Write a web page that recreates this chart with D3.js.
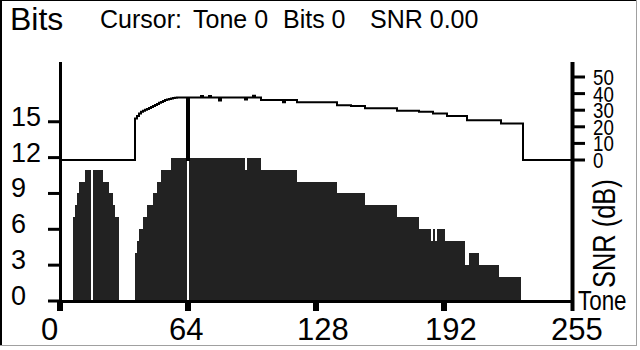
<!DOCTYPE html>
<html>
<head>
<meta charset="utf-8">
<script src="https://cdn.jsdelivr.net/npm/d3@7"></script>
<style>
  body { margin: 0; background: #fff; }
  text { font-family: "Liberation Sans", Arial, sans-serif; fill: #000; }
</style>
</head>
<body>
<svg id="chart" width="640" height="350"></svg>
<script>
// bits loaded on each tone (0..255)
const bits = [
  0,0,0,0,0,0,0,7,8,9,10,10,10,11,11,11,
  0,11,11,11,11,11,10,10,10,9,9,8,7,7,0,0,
  0,0,0,0,0,0,4,5,6,6,7,7,8,8,8,9,
  9,10,10,11,11,11,11,11,12,12,12,12,12,12,12,12,
  0,12,12,12,12,12,12,12,12,12,12,12,12,12,12,12,
  12,12,12,12,12,12,12,12,12,12,12,12,12,11,12,12,
  12,12,12,12,12,11,11,11,11,11,11,11,11,11,11,11,
  11,11,11,11,11,11,11,10,10,10,10,10,10,10,10,10,
  10,10,10,10,10,10,10,10,10,10,10,9,9,9,9,9,
  9,9,9,9,9,9,9,9,9,8,8,8,8,8,8,8,
  8,8,8,8,8,8,8,8,8,7,7,7,7,7,7,7,
  7,7,7,7,6,6,6,6,6,6,5,6,5,6,6,6,
  6,5,5,5,5,5,5,5,5,5,5,3,3,4,4,4,
  4,4,3,3,3,3,3,3,3,3,3,3,2,2,2,2,
  2,2,2,2,2,2,2,0,0,0,0,0,0,0,0,0,
  0,0,0,0,0,0,0,0,0,0,0,0,0,0,0,0
];

// SNR per tone in dB
const snr = [
  0,0,0,0,0,0,0,0,0,0,0,0,0,0,0,0,
  0,0,0,0,0,0,0,0,0,0,0,0,0,0,0,0,
  0,0,0,0,0,0,25,26.5,28,29,29.7,30.3,30.7,31.3,32,32.6,
  33.1,33.8,34.5,35,35.5,36.1,36.4,36.7,37.1,37.3,37.5,37.7,37.7,37.7,37.7,37.7,
  0,37.7,37.7,37.7,37.7,37.7,37.7,38.5,37.7,37.7,37.7,38.5,37.7,37.7,37.7,37.7,
  35.8,37.7,37.7,37.7,37.7,37.7,37.7,37.7,37.7,37.7,37.7,37.7,37.7,36.5,37.7,37.7,
  37.7,38.7,37.7,37.7,37.7,36.1,36.1,36.1,36.1,36.1,36.1,36.1,36.1,36.1,36.1,36.1,
  34.8,36.1,36.1,36.1,36.1,36.1,36.1,34.8,34.8,34.8,34.8,34.8,34.8,34.8,34.8,34.8,
  34.8,34.8,34.8,34.8,34.8,34.8,34.8,34.8,34.8,34.8,34.8,33,33,33,33,33,
  33,33,32.5,32.5,32.5,32.5,32.5,32.5,32.5,31.1,31.1,31.1,31.1,31.1,31.1,31.1,
  31.1,31.1,31.1,31.1,31.1,31.1,31.1,31.1,31.1,29.6,29.6,29.6,29.6,29.6,29.6,29.6,
  29.6,29.6,29.6,29.6,29,29,29,29,29,29,29,28,28,28,28,28,
  28,28,26.5,26.5,26.5,26.5,26.5,26.5,26.5,26.5,26.5,26.5,24,24,24,24,
  24,24,24,24,24,24,24,24,24,24,24,24,24,22,22,22,
  22,22,22,22,22,22,22,22,0,0,0,0,0,0,0,0,
  0,0,0,0,0,0,0,0,0,0,0,0,0,0,0,0
];

const toneTicks = [0, 64, 128, 192, 255];
const bitTicks = [0, 3, 6, 9, 12, 15];
const snrTicks = [0, 10, 20, 30, 40, 50];
const cursorParts = ["Cursor:", "Tone 0", "Bits 0", "SNR 0.00"];

const svg = d3.select("#chart");

// scales: 2px per tone, ~12px per bit
const x = d3.scaleLinear().domain([0, 255]).range([60, 570]);
const yBits = d3.scaleLinear().domain([0, 20]).range([301, 62]);
const ySnr = d3.scaleLinear().domain([0, 50]).range([160, 77]);

// window frame
svg.append("line").attr("x1", 0).attr("x2", 637).attr("y1", 0.5).attr("y2", 0.5)
  .attr("stroke", "#000");
svg.append("line").attr("x1", 1).attr("x2", 1).attr("y1", 0).attr("y2", 346)
  .attr("stroke", "#000").attr("stroke-width", 2);
svg.append("line").attr("x1", 636.5).attr("x2", 636.5).attr("y1", 0).attr("y2", 346)
  .attr("stroke", "#a0a0a0");
svg.append("line").attr("x1", 0).attr("x2", 637).attr("y1", 345.5).attr("y2", 345.5)
  .attr("stroke", "#a0a0a0");

// bit bars
const tones = bits.map((b, i) => ({ tone: i, bits: b, snr: snr[i] }));
svg.append("g")
  .attr("shape-rendering", "crispEdges")
  .selectAll("rect")
  .data(tones.filter(d => d.bits > 0))
  .enter()
  .append("rect")
  .attr("x", d => x(d.tone) - 1)
  .attr("y", d => yBits(d.bits))
  .attr("width", 2)
  .attr("height", d => yBits(0) - yBits(d.bits))
  .attr("fill", "#222");

// SNR step line
const snrPts = tones.map(d => [x(d.tone) - 1, ySnr(d.snr)]);
snrPts.push([x(255) + 1, ySnr(snr[255])]);
svg.append("path")
  .attr("d", d3.line().curve(d3.curveStepAfter)(snrPts))
  .attr("fill", "none")
  .attr("stroke", "#000")
  .attr("stroke-width", 2);

// axes lines
svg.append("line").attr("x1", 60.5).attr("x2", 60.5).attr("y1", 62).attr("y2", 303)
  .attr("stroke", "#000").attr("stroke-width", 3);
svg.append("line").attr("x1", 572.5).attr("x2", 572.5).attr("y1", 62).attr("y2", 311)
  .attr("stroke", "#000").attr("stroke-width", 4);
svg.append("line").attr("x1", 59).attr("x2", 574).attr("y1", 301.5).attr("y2", 301.5)
  .attr("stroke", "#000").attr("stroke-width", 3);

// left bits ticks + labels
svg.selectAll(".bt").data(bitTicks).enter().append("line")
  .attr("x1", 48).attr("x2", 60).attr("y1", d => yBits(d)).attr("y2", d => yBits(d))
  .attr("stroke", "#000").attr("stroke-width", 3);
svg.selectAll(".bl").data(bitTicks).enter().append("text")
  .attr("x", 11).attr("y", d => yBits(d) + 4)
  .attr("font-size", 27)
  .text(d => d);

// bottom tone ticks + labels
svg.selectAll(".tt").data(toneTicks.filter(d => d < 255)).enter().append("line")
  .attr("x1", d => x(d)).attr("x2", d => x(d)).attr("y1", 301).attr("y2", 311)
  .attr("stroke", "#000").attr("stroke-width", 6);
svg.selectAll(".tl").data(toneTicks).enter().append("text")
  .attr("x", d => x(d) - 19).attr("y", 340)
  .attr("font-size", 31)
  .text(d => d);

// right SNR ticks + labels (squeezed horizontally like the original font)
svg.selectAll(".st").data(snrTicks).enter().append("line")
  .attr("x1", 574).attr("x2", 585).attr("y1", d => ySnr(d)).attr("y2", d => ySnr(d))
  .attr("stroke", "#000").attr("stroke-width", 3);
svg.selectAll(".sl").data(snrTicks).enter().append("text")
  .attr("transform", d => `translate(593,${ySnr(d) + 8}) scale(0.85,1)`)
  .attr("font-size", 22)
  .text(d => d);

svg.append("text")
  .attr("transform", "translate(615,288) rotate(-90) scale(0.82,1)")
  .attr("font-size", 31)
  .text("SNR (dB)");

svg.append("text")
  .attr("transform", "translate(578,310) scale(0.8,1)")
  .attr("font-size", 28)
  .text("Tone");

// title + cursor readout
svg.append("text").attr("x", 10).attr("y", 30).attr("font-size", 32).text("Bits");
const cursorX = [100, 193, 283, 370];
svg.selectAll(".cur").data(cursorParts).enter().append("text")
  .attr("x", (d, i) => cursorX[i]).attr("y", 28)
  .attr("font-size", 25)
  .text(d => d);
</script>
</body>
</html>
